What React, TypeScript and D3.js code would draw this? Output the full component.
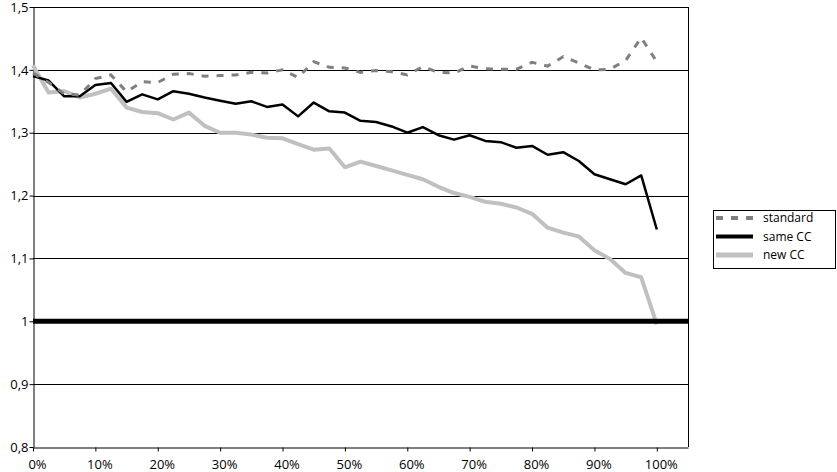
import React, { useEffect, useRef } from "react";
import * as d3 from "d3";

// x positions in percent
const xPct = [0, 2.5, 5, 7.5, 10, 12.5, 15, 17.5, 20, 22.5, 25, 27.5, 30, 32.5, 35, 37.5, 40, 42.5, 45, 47.5,
  50, 52.5, 55, 57.5, 60, 62.5, 65, 67.5, 70, 72.5, 75, 77.5, 80, 82.5, 85, 87.5, 90, 92.5, 95, 97.5, 100];

const standard = [1.395, 1.38, 1.362, 1.36, 1.386, 1.392, 1.365, 1.381, 1.38, 1.393, 1.394, 1.39, 1.391, 1.392,
  1.396, 1.395, 1.4, 1.388, 1.413, 1.404, 1.403, 1.396, 1.399, 1.397, 1.392, 1.405, 1.396, 1.395, 1.406,
  1.402, 1.401, 1.401, 1.412, 1.406, 1.421, 1.411, 1.4, 1.401, 1.415, 1.451, 1.413];

const sameCC = [1.39, 1.383, 1.358, 1.358, 1.376, 1.379, 1.349, 1.361, 1.353, 1.366, 1.362, 1.356, 1.351, 1.346,
  1.35, 1.341, 1.345, 1.326, 1.348, 1.334, 1.332, 1.319, 1.317, 1.31, 1.3, 1.309, 1.296, 1.289, 1.296,
  1.287, 1.285, 1.276, 1.279, 1.265, 1.269, 1.255, 1.234, 1.226, 1.218, 1.232, 1.146];

const newCC = [1.407, 1.364, 1.366, 1.356, 1.362, 1.37, 1.34, 1.333, 1.331, 1.321, 1.332, 1.311, 1.3, 1.3,
  1.297, 1.292, 1.291, 1.282, 1.273, 1.275, 1.245, 1.254, 1.247, 1.24, 1.233, 1.226, 1.214, 1.204, 1.198,
  1.19, 1.187, 1.181, 1.171, 1.149, 1.141, 1.135, 1.113, 1.099, 1.077, 1.07, 0.995];

const yTicks = [0.8, 0.9, 1, 1.1, 1.2, 1.3, 1.4, 1.5];
const xTicks = [0, 10, 20, 30, 40, 50, 60, 70, 80, 90, 100];
const seriesNames = ["standard", "same CC", "new CC"];

const W = 837, H = 472;
const FONT = "'Open Sans', 'Liberation Sans', sans-serif";

export default function App() {
  const ref = useRef<SVGSVGElement>(null);

  useEffect(() => {
    const svg = d3.select(ref.current);
    svg.selectAll("*").remove();

    const x = d3.scaleLinear().domain([0, 105]).range([33, 688]);
    const y = d3.scaleLinear().domain([0.8, 1.5]).range([447, 7]);

    // gridlines
    svg.append("g").selectAll("line").data(yTicks.filter(d => d !== 1 && d !== 0.8)).join("line")
      .attr("x1", x(0)).attr("x2", x(105))
      .attr("y1", d => Math.round(y(d)) + 0.5).attr("y2", d => Math.round(y(d)) + 0.5)
      .attr("stroke", "#000").attr("stroke-width", 1);

    // right border
    svg.append("line")
      .attr("x1", Math.round(x(105)) + 0.5).attr("x2", Math.round(x(105)) + 0.5)
      .attr("y1", y(1.5)).attr("y2", y(0.8))
      .attr("stroke", "#000");

    // y axis
    const yAxis = svg.append("g")
      .attr("transform", `translate(${Math.round(x(0)) + 0.5},0)`)
      .call(d3.axisLeft(y).tickValues(yTicks).tickSize(4).tickSizeOuter(0)
        .tickFormat(d => String(d).replace(".", ",")));
    yAxis.select(".domain").attr("stroke", "#000");
    yAxis.selectAll("text").attr("x", -5).style("font-family", FONT).style("font-size", "13px").attr("fill", "#000");

    // x axis
    const xAxis = svg.append("g")
      .attr("transform", `translate(0,${Math.round(y(0.8)) + 0.5})`)
      .call(d3.axisBottom(x).tickValues(xTicks).tickSize(4).tickSizeOuter(0).tickFormat(d => d + "%"));
    xAxis.select(".domain").attr("stroke", "#000");
    xAxis.selectAll("text").attr("y", 12).attr("dx", 4)
      .style("font-family", FONT).style("font-size", "13px").attr("fill", "#000");

    const line = d3.line<number>().x((_, i) => x(xPct[i])).y(d => y(d));

    svg.append("path").datum(newCC).attr("d", line)
      .attr("fill", "none").attr("stroke", "#c0c0c0").attr("stroke-width", 4).attr("stroke-linejoin", "round");
    svg.append("path").datum(sameCC).attr("d", line)
      .attr("fill", "none").attr("stroke", "#000").attr("stroke-width", 2.5).attr("stroke-linejoin", "round");
    svg.append("path").datum(standard).attr("d", line)
      .attr("fill", "none").attr("stroke", "#808080").attr("stroke-width", 3).attr("stroke-dasharray", "7,8");

    // reference line at 1
    svg.append("line")
      .attr("x1", x(0)).attr("x2", x(105)).attr("y1", y(1)).attr("y2", y(1))
      .attr("stroke", "#000").attr("stroke-width", 5);

    // legend
    const lg = svg.append("g");
    lg.append("rect").attr("x", 713.5).attr("y", 210.5).attr("width", 122).attr("height", 58)
      .attr("fill", "#fff").attr("stroke", "#000");
    const styles = [
      { stroke: "#808080", w: 4, dash: "7,8" },
      { stroke: "#000", w: 4, dash: null },
      { stroke: "#c0c0c0", w: 5, dash: null },
    ];
    seriesNames.forEach((name, i) => {
      const cy = 218 + i * 18.5;
      lg.append("line").attr("x1", 716).attr("x2", 753).attr("y1", cy).attr("y2", cy)
        .attr("stroke", styles[i].stroke).attr("stroke-width", styles[i].w)
        .attr("stroke-dasharray", styles[i].dash);
      lg.append("text").attr("x", 763).attr("y", cy).attr("dy", "0.35em")
        .style("font-family", FONT).style("font-size", "12px").text(name);
    });
  }, []);

  return <svg ref={ref} width={W} height={H} style={{ position: "absolute", left: 0, top: 0, background: "#fff" }} />;
}
